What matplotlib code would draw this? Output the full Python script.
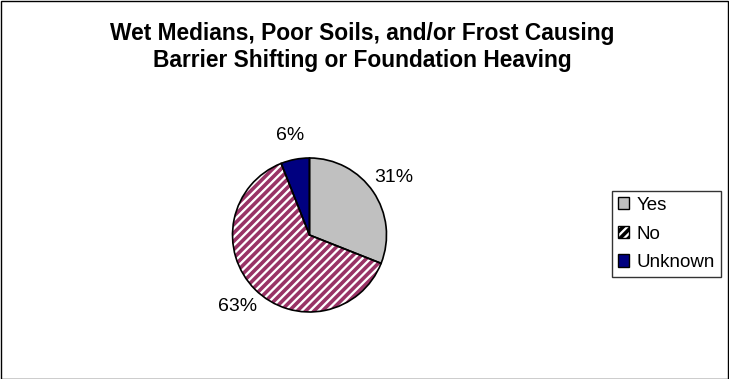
import matplotlib.pyplot as plt
from matplotlib.patches import Rectangle

plt.rcParams['font.family'] = ['Liberation Sans', 'DejaVu Sans']
plt.rcParams['hatch.linewidth'] = 2.6

labels = ['Yes', 'No', 'Unknown']
values = [31, 63, 6]
colors = ['#C0C0C0', 'white', '#000080']
hatches = [None, '////', None]

fig = plt.figure(figsize=(7.29, 3.79), dpi=100)
fig.patches.append(Rectangle((0.001, 0.001), 0.997, 0.996, transform=fig.transFigure,
                             fill=False, edgecolor='black', linewidth=1))

fig.text(0.497, 0.876, 'Wet Medians, Poor Soils, and/or Frost Causing\nBarrier Shifting or Foundation Heaving',
         ha='center', va='center', fontsize=16.4, fontweight='bold', linespacing=1.18)

cx, cy, r = 309.5, 235, 77
ax = fig.add_axes([(cx - r) / 729, (379 - cy - r) / 379, 2 * r / 729, 2 * r / 379])

wedges, texts, autotexts = ax.pie(values, colors=colors, startangle=90, counterclock=False,
                                  autopct='%d%%', pctdistance=1.32,
                                  wedgeprops=dict(linewidth=0),
                                  textprops=dict(fontsize=14))
for w, h in zip(wedges, hatches):
    if h:
        w.set_hatch(h)
        w.set_edgecolor('#993366')

outline, _ = ax.pie(values, colors=['none'] * 3, startangle=90, counterclock=False,
                    wedgeprops=dict(linewidth=1.2, edgecolor='black', facecolor='none'))
ax.set_xlim(-1, 1)
ax.set_ylim(-1, 1)
ax.set_aspect('equal')

leg = fig.legend(wedges, labels, loc='center left', bbox_to_anchor=(612 / 729, 1 - 234 / 379),
                 fontsize=13.5, frameon=True, fancybox=False, edgecolor='black',
                 handlelength=0.62, handleheight=0.62, handletextpad=0.4,
                 borderpad=0.3, labelspacing=0.62, borderaxespad=0)
leg.get_frame().set_linewidth(1)
for h in leg.legend_handles:
    h.set_linewidth(1)
    h.set_edgecolor('black')

fig.savefig('out.png', dpi=100)
